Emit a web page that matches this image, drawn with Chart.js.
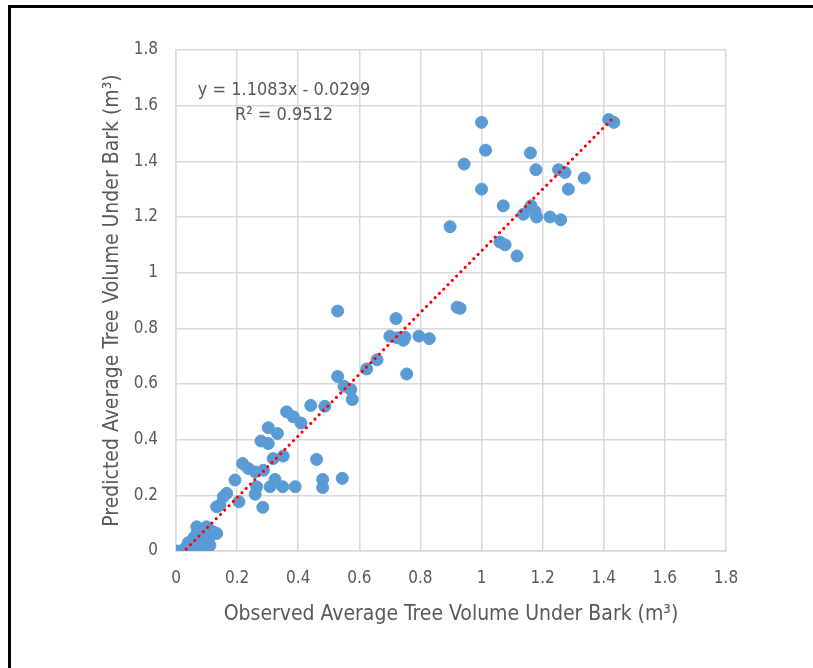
<!DOCTYPE html>
<html>
<head>
<meta charset="utf-8">
<script src="https://cdn.jsdelivr.net/npm/chart.js@4"></script>
<style>
  html, body { margin: 0; padding: 0; background: #fff; }
  #wrap { position: relative; width: 813px; height: 668px; }
  #frame { position: absolute; left: 8px; top: 5px; right: 0; bottom: 0;
           border-left: 3px solid #000; border-top: 3px solid #000; pointer-events: none; }
</style>
</head>
<body>
<div id="wrap">
  <canvas id="chart" width="813" height="668"></canvas>
  <div id="frame"></div>
</div>
<script>
// observed vs predicted tree volume (m3)
const observed = [
  1.00, 1.013, 0.943, 1.00, 1.16, 1.178, 1.252, 1.273, 1.336, 1.284,
  1.071, 1.137, 1.162, 1.175, 1.18, 1.224, 1.259, 1.06, 1.077, 1.116,
  1.416, 1.433, 0.897, 0.92, 0.93,
  0.529, 0.72, 0.70, 0.724, 0.749, 0.744, 0.795, 0.829, 0.658, 0.624,
  0.755, 0.529, 0.55, 0.572, 0.577, 0.487, 0.441, 0.362, 0.384, 0.409,
  0.302, 0.332, 0.278, 0.302, 0.318, 0.351, 0.46, 0.218, 0.237, 0.259,
  0.286, 0.193, 0.324, 0.264, 0.308, 0.349, 0.39, 0.48, 0.48, 0.544,
  0.166, 0.155, 0.259, 0.206, 0.133, 0.284, 0.144,
  0.005, 0.03, 0.04, 0.05, 0.057, 0.06, 0.068, 0.07, 0.08, 0.09,
  0.10, 0.10, 0.111, 0.12, 0.133, 0.08, 0.06, 0.11
];
const predicted = [
  1.54, 1.44, 1.39, 1.30, 1.43, 1.37, 1.37, 1.36, 1.34, 1.30,
  1.24, 1.21, 1.24, 1.22, 1.20, 1.20, 1.19, 1.11, 1.10, 1.06,
  1.55, 1.54, 1.165, 0.876, 0.872,
  0.862, 0.835, 0.772, 0.766, 0.768, 0.757, 0.772, 0.763, 0.687, 0.654,
  0.636, 0.627, 0.592, 0.58, 0.544, 0.52, 0.523, 0.50, 0.482, 0.46,
  0.443, 0.422, 0.395, 0.386, 0.332, 0.341, 0.329, 0.314, 0.296, 0.284,
  0.29, 0.255, 0.257, 0.231, 0.231, 0.231, 0.231, 0.257, 0.228, 0.261,
  0.207, 0.195, 0.204, 0.177, 0.159, 0.157, 0.165,
  0.0, 0.01, 0.03, 0.02, 0.0, 0.05, 0.087, 0.065, 0.04, 0.06,
  0.087, 0.03, 0.02, 0.07, 0.063, 0.01, 0.03, 0.05
];
const slope = 1.1083;
const intercept = -0.0299;
const eqText = 'y = 1.1083x - 0.0299';
const r2Text = 'R² = 0.9512';
const xTitle = 'Observed Average Tree Volume Under Bark (m³)';
const yTitle = 'Predicted Average Tree Volume Under Bark (m³)';

const points = observed.map((x, i) => ({ x: x, y: predicted[i] }));
const xMin = Math.min(...observed);
const xMax = Math.max(...observed);
const trend = [
  { x: xMin, y: slope * xMin + intercept },
  { x: xMax, y: slope * xMax + intercept }
];

const font = '"DejaVu Sans Condensed", sans-serif';
const textColor = '#595959';
const gridColor = '#d9d9d9';

// equation label of the trendline
const eqLabel = {
  id: 'eqLabel',
  afterDraw(chart) {
    const ctx = chart.ctx;
    const a = chart.chartArea;
    ctx.save();
    ctx.fillStyle = textColor;
    ctx.font = '18px ' + font;
    ctx.textAlign = 'center';
    ctx.textBaseline = 'middle';
    ctx.fillText(eqText, a.left + 108, a.top + 40);
    ctx.fillText(r2Text, a.left + 108, a.top + 65);
    ctx.restore();
  }
};

new Chart(document.getElementById('chart'), {
  type: 'scatter',
  data: {
    datasets: [{
      data: points,
      backgroundColor: '#5b9bd5',
      borderColor: '#5b9bd5',
      borderWidth: 1,
      pointRadius: 6,
      order: 2
    }, {
      type: 'line',
      data: trend,
      borderColor: '#ff0000',
      borderWidth: 3,
      borderDash: [0.1, 6],
      borderCapStyle: 'round',
      pointRadius: 0,
      fill: false,
      order: 1
    }]
  },
  options: {
    responsive: false,
    animation: false,
    layout: { padding: { left: 100, right: 87, top: 50, bottom: 41 } },
    plugins: { legend: { display: false }, tooltip: { enabled: false } },
    scales: {
      x: {
        type: 'linear',
        min: 0, max: 1.8,
        ticks: { stepSize: 0.2, color: textColor, font: { family: font, size: 17 }, padding: 17,
                 callback: v => Math.round(v * 10) / 10 },
        grid: { color: gridColor, lineWidth: 1.5, drawTicks: false },
        border: { color: gridColor, width: 1.5 },
        title: { display: true, text: xTitle, color: textColor, font: { family: font, size: 21 }, padding: { top: 4, bottom: 0 } },
        afterFit: s => { s.height = 76; }
      },
      y: {
        min: 0, max: 1.8,
        ticks: { stepSize: 0.2, color: textColor, font: { family: font, size: 17 }, padding: 18,
                 callback: v => Math.round(v * 10) / 10 },
        grid: { color: gridColor, lineWidth: 1.5, drawTicks: false },
        border: { color: gridColor, width: 1.5 },
        title: { display: true, text: yTitle, color: textColor, font: { family: font, size: 21 }, padding: 0 },
        afterFit: s => { s.width = 76; }
      }
    }
  },
  plugins: [eqLabel]
});
</script>
</body>
</html>
